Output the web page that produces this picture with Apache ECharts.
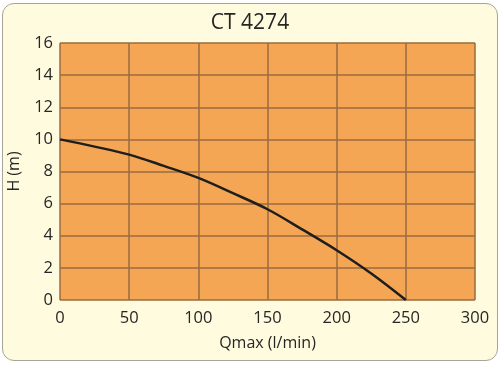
<!DOCTYPE html>
<html>
<head>
<meta charset="utf-8">
<script src="https://cdn.jsdelivr.net/npm/echarts@6/dist/echarts.min.js"></script>
<style>
html,body{margin:0;padding:0;background:#fff;}
#main{position:absolute;left:2px;top:3px;width:494px;height:356px;border:1px solid #a8a598;border-radius:12px;background:#fffbde;overflow:hidden;}
</style>
</head>
<body>
<div id="main"></div>
<script>
// Q (l/min) -> H (m)
var flow = [0, 25, 50, 75, 100, 125, 150, 175, 200, 225, 250];
var head = [10, 9.55, 9.05, 8.35, 7.6, 6.65, 5.65, 4.4, 3.1, 1.65, 0];
var chartTitle = 'CT 4274';

var pts = [];
for (var i = 0; i < flow.length; i++) {
    pts.push([flow[i], head[i]]);
}

var myChart = echarts.init(document.getElementById('main'));
var txt = '#262626';
var font = '"Open Sans", "DejaVu Sans", sans-serif';

var option = {
    animation: false,
    title: {
        text: chartTitle,
        left: 'center',
        top: 4,
        textStyle: {color: txt, fontSize: 21, fontWeight: 'normal', fontFamily: font}
    },
    grid: {
        left: 57, right: 22, top: 39, bottom: 60,
        containLabel: false,
        outerBoundsMode: 'none',
        show: true,
        backgroundColor: '#f5a654',
        borderWidth: 0
    },
    xAxis: {
        type: 'value',
        min: 0, max: 300, interval: 50,
        name: 'Qmax (l/min)',
        nameLocation: 'middle',
        nameGap: 35,
        nameMoveOverlap: false,
        nameTextStyle: {color: txt, fontSize: 16, fontFamily: font},
        axisLine: {show: false},
        axisTick: {show: false},
        axisLabel: {color: txt, fontSize: 16.5, fontFamily: font, margin: 10},
        splitLine: {lineStyle: {color: '#9a6b40', width: 1.5}}
    },
    yAxis: {
        type: 'value',
        min: 0, max: 16, interval: 2,
        name: 'H (m)',
        nameLocation: 'middle',
        nameGap: 38,
        nameMoveOverlap: false,
        nameTextStyle: {color: txt, fontSize: 16, fontFamily: font},
        axisLine: {show: false},
        axisTick: {show: false},
        axisLabel: {color: txt, fontSize: 16.5, fontFamily: font, margin: 7},
        splitLine: {lineStyle: {color: '#9a6b40', width: 1.5}}
    },
    series: [{
        type: 'line',
        data: pts,
        smooth: 0.35,
        symbol: 'none',
        lineStyle: {color: '#1e1e1e', width: 2.5}
    }]
};

myChart.setOption(option);
</script>
</body>
</html>
